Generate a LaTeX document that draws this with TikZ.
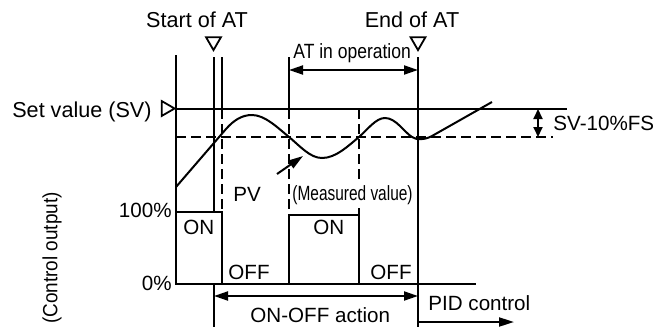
\documentclass[tikz,border=0pt]{standalone}
\usepackage{fontspec}
\setmainfont{Liberation Sans}
\usetikzlibrary{arrows.meta,shapes.geometric}
\tikzset{
  plotline/.style={line width=1pt,line join=miter},
  guideline/.style={line width=1pt,dash pattern=on 5pt off 2.5pt},
  dimarrow/.style={{Triangle[length=7pt,width=4.5pt]}-{Triangle[length=7pt,width=4.5pt]},
    line width=1pt},
  bandarrow/.style={{Triangle[length=5pt,width=4.5pt]}-{Triangle[length=5pt,width=4.5pt]},
    line width=1pt},
  onearrow/.style={-{Triangle[length=7.5pt,width=4.5pt]},line width=1pt},
  marktri/.style={draw,line width=0.9pt,regular polygon,regular polygon sides=3,
    minimum size=8.6pt,inner sep=0pt},
  lbl/.style={inner sep=0pt,font=\fontsize{10.3}{12}\selectfont},
  biglbl/.style={inner sep=0pt,font=\fontsize{10.8}{13}\selectfont},
}

\begin{document}
\begin{tikzpicture}[x=0.5pt,y=-0.5pt]
  \useasboundingbox (0,0) rectangle (659,327);
  % axes and levels
  \draw[plotline] (176,55) -- (176,284) -- (476,284);
  \draw[plotline] (176,109) -- (567,109);
  \draw[guideline] (176,137) -- (553,137);
  % start of AT
  \draw[plotline] (214,57) -- (214,212);
  \draw[plotline] (222,57) -- (222,109);
  \draw[guideline] (222,109) -- (222,212);
  \draw[plotline] (214,284) -- (214,327);
  % AT in operation
  \draw[plotline] (289,57) -- (289,109);
  \draw[guideline] (289,109) -- (289,215);
  \draw[guideline] (359,109) -- (359,180);
  \draw[plotline] (359,208) -- (359,215);
  % end of AT
  \draw[plotline] (418,57) -- (418,327);
  % control output
  \draw[plotline] (176,212) -- (222,212) -- (222,284);
  \draw[plotline] (289,284) -- (289,215) -- (359,215) -- (359,284);
  % PV
  \draw[plotline] (176,187) -- (226,129)
    .. controls (234,120) and (242,115) .. (252,115)
    .. controls (265,115) and (278,128) .. (289,137)
    .. controls (300,146) and (310,158) .. (322,158)
    .. controls (336,158) and (348,146) .. (359,137)
    .. controls (368,129) and (376,118) .. (385,118)
    .. controls (396,118) and (404,132) .. (412,137)
    .. controls (416,140) and (425,140) .. (432,136) -- (492,102);

  \node[marktri,rotate=180] (startmk) at (213.5,41.5) {};
  \node[marktri,rotate=180] (endmk) at (418,41.5) {};
  \node[marktri,rotate=-90] (svmk) at (166,108.5) {};

  \coordinate (atL) at (289,70);
  \coordinate (atR) at (418,70);
  \coordinate (svT) at (538,109);
  \coordinate (svB) at (538,137);
  \coordinate (pvtail) at (277,174);
  \coordinate (pvhead) at (303,156);
  \coordinate (onoffL) at (214,296);
  \coordinate (onoffR) at (418,296);
  \coordinate (pidL) at (418,322);
  \coordinate (pidR) at (514,322);

  \draw[dimarrow] (atL) -- (atR);
  \draw[bandarrow] (svT) -- (svB);
  \draw[onearrow] (pvtail) -- (pvhead);
  \draw[dimarrow] (onoffL) -- (onoffR);
  \draw[onearrow] (pidL) -- (pidR);

  \node[biglbl,anchor=base] (start) at (197,27) {Start of AT};
  \node[biglbl,anchor=base] (end) at (412,27) {End of AT};
  \node[biglbl,anchor=base east] (sv) at (152,117) {Set value (SV)};
  \node[lbl,anchor=base west] (atop) at (293,58) {\scalebox{0.85}[1]{AT in operation}};
  \node[lbl,anchor=base west] (band) at (553,130) {SV-10\%FS};
  \node[lbl,anchor=base] (pv) at (247,201) {PV};
  \node[lbl,anchor=base west] (meas) at (292,200) {\scalebox{0.75}[1]{(Measured value)}};
  \node[lbl,anchor=base east] (full) at (172,217) {100\%};
  \node[lbl,anchor=base east] (zero) at (172,290) {0\%};
  \node[lbl,anchor=base west] (on1) at (183,234) {ON};
  \node[lbl,anchor=base west] (on2) at (313,234) {ON};
  \node[lbl,anchor=base west] (off1) at (228,279) {OFF};
  \node[lbl,anchor=base west] (off2) at (370,279) {OFF};
  \node[lbl,anchor=base west] (onoff) at (250,322) {ON-OFF action};
  \node[lbl,anchor=base west] (pid) at (428,310) {PID control};
  \node[lbl,rotate=90] (ctrl) at (52,258) {\scalebox{0.92}[1]{(Control output)}};
\end{tikzpicture}
\end{document}
